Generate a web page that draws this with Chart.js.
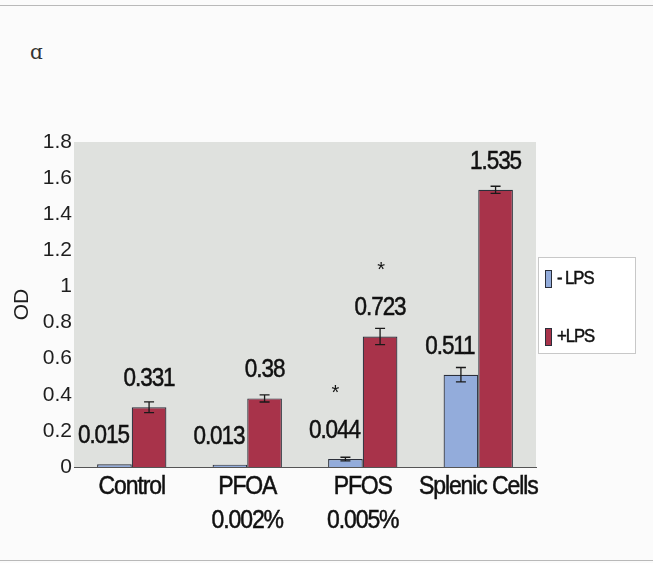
<!DOCTYPE html>
<html>
<head>
<meta charset="utf-8">
<script src="https://cdn.jsdelivr.net/npm/chart.js@4/dist/chart.umd.min.js"></script>
<style>
  html, body { margin: 0; padding: 0; background: #fbfbfb; }
  #wrap { position: relative; width: 653px; height: 563px; overflow: hidden; }
  .rule { position: absolute; left: 0; width: 653px; height: 1px; background: #b9b9b9; }
  #panel { position: absolute; left: 30px; top: 40px; font: 20px "DejaVu Serif", serif; color: #333; }
  canvas { position: absolute; left: 0; top: 0; }
</style>
</head>
<body>
<div id="wrap">
  <div class="rule" style="top:5px"></div>
  <div class="rule" style="top:560px"></div>
  <div id="panel">ɑ</div>
  <canvas id="c" width="653" height="563"></canvas>
</div>
<script>
// Optical density by treatment, without and with LPS stimulation
const categories = [["Control"], ["PFOA", "0.002%"], ["PFOS", "0.005%"], ["Splenic Cells"]];
const seriesNames = ["- LPS", "+LPS"];
const minusLPS = [0.015, 0.013, 0.044, 0.511];
const plusLPS = [0.331, 0.38, 0.723, 1.535];
const minusLPSErr = [0, 0, 0.01, 0.04];
const plusLPSErr = [0.03, 0.02, 0.045, 0.02];
const minusLPSMarks = ["", "", "*", ""];
const plusLPSMarks = ["", "", "*", ""];
const yTickLabels = ["0", "0.2", "0.4", "0.6", "0.8", "1", "1.2", "1.4", "1.6", "1.8"];

const SANS = '"Liberation Sans", Arial, sans-serif';
const INK = '#111111';

const errors = [minusLPSErr, plusLPSErr];
const marks = [minusLPSMarks, plusLPSMarks];

// tightly set text, squeezed horizontally for a narrow face
function condensed(ctx, text, x, y, size, sx, align) {
  ctx.save();
  ctx.font = size + 'px ' + SANS;
  ctx.letterSpacing = '-1.2px';
  ctx.textAlign = align || 'center';
  ctx.textBaseline = 'middle';
  ctx.fillStyle = INK;
  ctx.strokeStyle = INK;
  ctx.lineWidth = 0.5;
  ctx.translate(x, y);
  ctx.scale(sx, 1);
  ctx.fillText(text, 0, 0);
  ctx.strokeText(text, 0, 0);
  ctx.restore();
}

// plot background
const plotBg = {
  id: 'plotBg',
  beforeDraw(chart) {
    const { ctx, chartArea: a } = chart;
    ctx.save();
    ctx.fillStyle = '#dfe1de';
    ctx.fillRect(a.left, a.top, a.right - a.left, a.bottom - a.top);
    ctx.restore();
  }
};

// category names under the axis
const categoryLabels = {
  id: 'categoryLabels',
  afterDraw(chart) {
    const { ctx } = chart;
    const x = chart.scales.x;
    const base = chart.chartArea.bottom;
    chart.data.labels.forEach((lines, i) => {
      const cx = x.getPixelForValue(i);
      lines.forEach((t, k) => condensed(ctx, t, cx, base + 20 + k * 34, 25, 0.92));
    });
  }
};

// error bars, value labels and significance marks
const annotate = {
  id: 'annotate',
  afterDatasetsDraw(chart) {
    const { ctx } = chart;
    const y = chart.scales.y;
    chart.data.datasets.forEach((ds, di) => {
      const meta = chart.getDatasetMeta(di);
      meta.data.forEach((bar, i) => {
        const v = ds.data[i];
        const e = errors[di][i];
        const x = bar.x;
        if (e > 0) {
          const yt = y.getPixelForValue(v + e);
          const yb = y.getPixelForValue(v - e);
          ctx.save();
          ctx.strokeStyle = '#1a1a1a';
          ctx.lineWidth = 1.3;
          ctx.beginPath();
          ctx.moveTo(x, yt); ctx.lineTo(x, yb);
          ctx.moveTo(x - 5, yt); ctx.lineTo(x + 5, yt);
          ctx.moveTo(x - 5, yb); ctx.lineTo(x + 5, yb);
          ctx.stroke();
          ctx.restore();
        }
        const lx = x + (di === 0 ? -11 : 0);
        const ly = y.getPixelForValue(v) - 28;
        condensed(ctx, String(v), lx, ly, 25, 0.9);
        if (marks[di][i]) {
          ctx.save();
          ctx.font = '20px ' + SANS;
          ctx.fillStyle = INK;
          ctx.textAlign = 'center';
          ctx.textBaseline = 'middle';
          ctx.fillText(marks[di][i], lx + 1, ly - 38);
          ctx.restore();
        }
      });
    });
  }
};

// legend box on the right
const sideLegend = {
  id: 'sideLegend',
  afterDraw(chart) {
    const { ctx } = chart;
    ctx.save();
    ctx.fillStyle = '#ffffff';
    ctx.fillRect(538, 257, 97, 96);
    ctx.strokeStyle = '#c8c8c8';
    ctx.lineWidth = 1;
    ctx.strokeRect(538.5, 257.5, 97, 96);
    const rows = [278, 336];
    chart.data.datasets.forEach((ds, di) => {
      const cy = rows[di];
      ctx.fillStyle = ds.backgroundColor;
      ctx.fillRect(545, cy - 8, 6, 17);
      ctx.strokeStyle = '#2b2f3a';
      ctx.strokeRect(545.5, cy - 7.5, 6, 17);
      condensed(ctx, ds.label, 557, cy + 1, 19, 0.88, 'left');
    });
    ctx.restore();
  }
};

new Chart(document.getElementById('c'), {
  type: 'bar',
  data: {
    labels: categories,
    datasets: [
      { label: seriesNames[0], data: minusLPS, backgroundColor: '#93acdb', borderColor: '#2b2f3a', borderWidth: 1.2 },
      { label: seriesNames[1], data: plusLPS, backgroundColor: '#a8334a', borderColor: '#2b2f3a', borderWidth: 1.2 }
    ]
  },
  options: {
    responsive: false,
    animation: false,
    devicePixelRatio: 1,
    layout: { padding: { top: 142, right: 117, left: 10, bottom: 0 } },
    datasets: { bar: { categoryPercentage: 0.6, barPercentage: 1.0 } },
    plugins: { legend: { display: false }, tooltip: { enabled: false } },
    scales: {
      x: {
        grid: { display: false, drawTicks: false },
        border: { display: true, color: '#555', width: 1 },
        ticks: { display: false },
        afterFit(s) { s.height = 96; }
      },
      y: {
        min: 0, max: 1.8,
        grid: { display: false, drawTicks: false },
        border: { display: false },
        ticks: {
          stepSize: 0.2,
          color: '#1e1e1e',
          font: { family: SANS, size: 21 },
          padding: 2,
          callback: (v, i) => yTickLabels[i]
        },
        title: { display: true, text: 'OD', color: '#1e1e1e', font: { family: SANS, size: 21 }, padding: 0 },
        afterFit(s) { s.width = 64; }
      }
    }
  },
  plugins: [plotBg, annotate, categoryLabels, sideLegend]
});
</script>
</body>
</html>
